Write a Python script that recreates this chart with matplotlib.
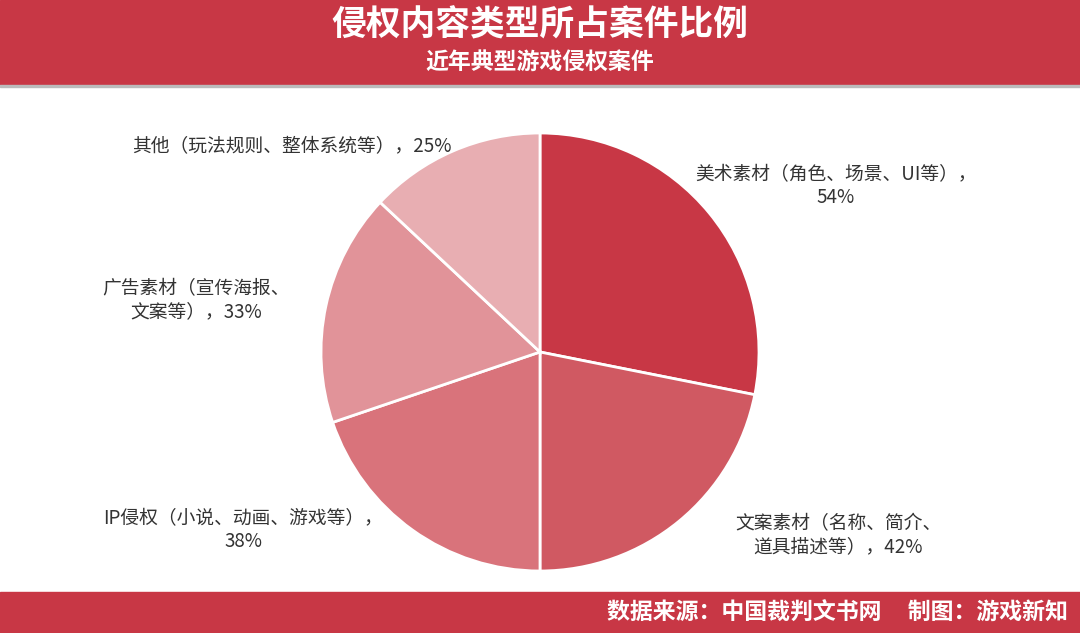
import matplotlib
matplotlib.use("Agg")
import matplotlib.pyplot as plt
from matplotlib.patches import Rectangle

plt.rcParams['font.family'] = 'Noto Sans CJK SC'

categories = ["美术素材（角色、场景、UI等），\n54%", "文案素材（名称、简介、\n道具描述等），42%",
              "IP侵权（小说、动画、游戏等），\n38%", "广告素材（宣传海报、\n文案等），33%",
              "其他（玩法规则、整体系统等），25%"]
values = [54, 42, 38, 33, 25]
colors = ["#C83745", "#D05962", "#D9737B", "#E19399", "#E8AEB2"]

W, H = 1080, 633
fig = plt.figure(figsize=(W/100, H/100), dpi=100)
fig.patches.append(Rectangle((0, 1-84/H), 1, 84/H, transform=fig.transFigure, color="#C83745", zorder=0))
fig.patches.append(Rectangle((0, 1-87/H), 1, 2/H, transform=fig.transFigure, color="#BBBBBB", zorder=0))
fig.patches.append(Rectangle((0, 0), 1, 41/H, transform=fig.transFigure, color="#C83745", zorder=0))

fig.text(0.5, 1-25/H, "侵权内容类型所占案件比例", color="white", fontsize=25, fontweight="bold", ha="center", va="center")
fig.text(0.5, 1-62/H, "近年典型游戏侵权案件", color="white", fontsize=16.5, fontweight="bold", ha="center", va="center")
fig.text(1-12/W, 20/H, "数据来源：中国裁判文书网     制图：游戏新知", color="white", fontsize=16.5, fontweight="bold", ha="right", va="center")

ax = fig.add_axes([(540-219)/W, (633-352-219)/H, 438/W, 438/H])
ax.pie(values, colors=colors, startangle=90, counterclock=False, radius=1,
       wedgeprops=dict(edgecolor="white", linewidth=2))
ax.set_xlim(-1, 1)
ax.set_ylim(-1, 1)
ax.set_aspect("equal")

pos = [(695, 186, "left"), (735, 535, "left"), (383, 530, "right"), (290, 300, "right"), (452, 146, "right")]
for lab, (x, y, ha) in zip(categories, pos):
    fig.text(x/W, 1-y/H, lab, fontsize=13.5, color="#333333", ha=ha, va="center",
             multialignment="center", linespacing=1.15)

fig.savefig("out.png", dpi=100, facecolor="white")
